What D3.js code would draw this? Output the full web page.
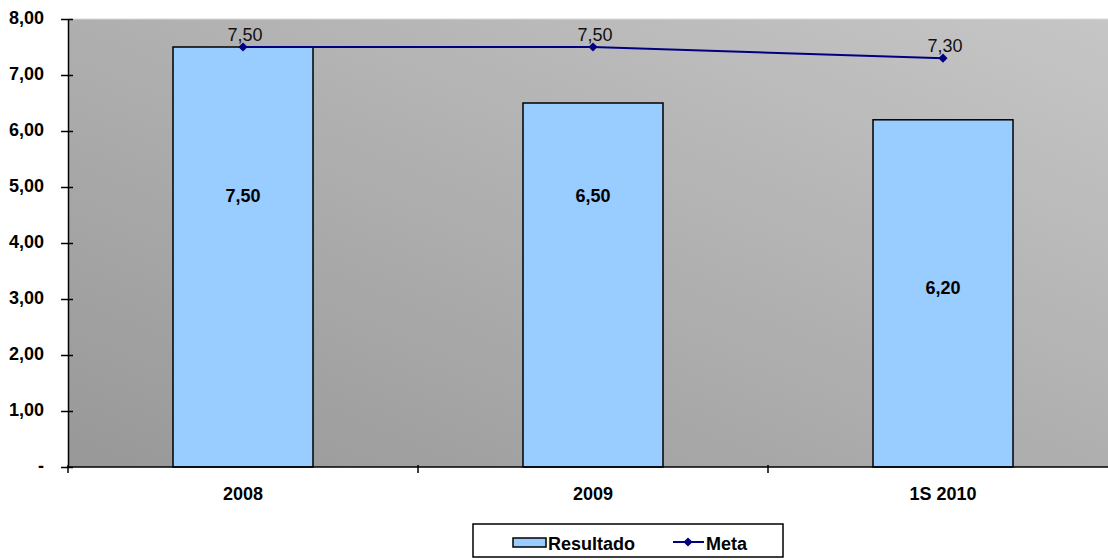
<!DOCTYPE html>
<html><head><meta charset="utf-8">
<script src="https://cdn.jsdelivr.net/npm/d3@7"></script>
<style>body{margin:0;background:#fff;}svg{display:block;font-family:Arial,"Liberation Sans",sans-serif;}</style>
</head><body><svg id="c" width="1108" height="560"></svg>
<script>
const categories = ["2008", "2009", "1S 2010"];
const resultado = [7.5, 6.5, 6.2];
const meta = [7.5, 7.5, 7.3];
const resultadoLabelAt = [4.85, 4.85, 3.21];
const yTicks = [0, 1, 2, 3, 4, 5, 6, 7, 8];
const yTickLabels = ["-", "1,00", "2,00", "3,00", "4,00", "5,00", "6,00", "7,00", "8,00"];
const fmt = v => v.toFixed(2).replace(".", ",");

const FONT = "Arial, 'Liberation Sans', sans-serif";
const svg = d3.select("#c");
const L = 68, R = 1118, T = 19, B = 467;
const x = d3.scaleBand().domain(categories).range([L, R]).paddingInner(0.6).paddingOuter(0.3);
const xc = d3.scalePoint().domain(categories).range([L, R]).padding(0.5);
const y = d3.scaleLinear().domain([0, 8]).range([B, T]);

const defs = svg.append("defs");
const g = defs.append("linearGradient").attr("id", "bg").attr("x1", "0").attr("y1", "1").attr("x2", "1").attr("y2", "0");
g.append("stop").attr("offset", "0").attr("stop-color", "#989898");
g.append("stop").attr("offset", "1").attr("stop-color", "#c6c6c6");

svg.append("rect").attr("x", L).attr("y", T).attr("width", R - L).attr("height", B - T).attr("fill", "url(#bg)");
svg.append("line").attr("x1", L).attr("x2", R).attr("y1", T).attr("y2", T).attr("stroke", "#d8d8d8").attr("stroke-width", 1);

// bars
svg.selectAll("rect.bar").data(resultado).join("rect").attr("class", "bar")
  .attr("x", (d, i) => x(categories[i])).attr("width", x.bandwidth())
  .attr("y", d => y(d)).attr("height", d => y(0) - y(d))
  .attr("fill", "#99ccff").attr("stroke", "#000").attr("stroke-width", 1.5);

svg.selectAll("text.bl").data(resultado).join("text").attr("class", "bl")
  .attr("x", (d, i) => xc(categories[i])).attr("y", (d, i) => y(resultadoLabelAt[i]) + 7)
  .attr("text-anchor", "middle").attr("font-size", 18).attr("font-weight", "bold").text(d => fmt(d));

// axes
const yAxis = d3.axisLeft(y).tickValues(yTicks).tickFormat((d, i) => yTickLabels[i]).tickSize(0).tickPadding(24);
const ya = svg.append("g").attr("transform", `translate(${L},0)`).call(yAxis);
ya.select(".domain").attr("stroke", "#000").attr("stroke-width", 1.5);
ya.selectAll(".tick text").attr("font-size", 18).attr("font-weight", "bold").attr("fill", "#000").attr("font-family", FONT).attr("dy", "0.25em");
ya.selectAll(".tick").append("line").attr("x1", -7).attr("x2", 5).attr("stroke", "#000").attr("stroke-width", 1.5);

svg.append("line").attr("x1", L).attr("x2", R).attr("y1", B).attr("y2", B).attr("stroke", "#000").attr("stroke-width", 1.5);
const bounds = categories.map(c => x(c) - x.step() * x.paddingInner() / 2);
bounds.push(R);
svg.selectAll("line.xt").data(bounds).join("line").attr("class", "xt")
  .attr("x1", d => d).attr("x2", d => d).attr("y1", B - 2).attr("y2", B + 6).attr("stroke", "#000").attr("stroke-width", 1.5);
svg.selectAll("text.xl").data(categories).join("text").attr("class", "xl")
  .attr("x", d => xc(d)).attr("y", 500).attr("text-anchor", "middle")
  .attr("font-size", 18).attr("font-weight", "bold").text(d => d);

// meta line
const line = d3.line().x((d, i) => xc(categories[i])).y(d => y(d));
svg.append("path").datum(meta).attr("d", line).attr("fill", "none").attr("stroke", "#000080").attr("stroke-width", 2);
const diamond = d3.symbol().type(d3.symbolSquare).size(42);
svg.selectAll("path.mk").data(meta).join("path").attr("class", "mk")
  .attr("transform", (d, i) => `translate(${xc(categories[i])},${y(d)}) rotate(45)`).attr("d", diamond).attr("fill", "#000080");
svg.selectAll("text.ml").data(meta).join("text").attr("class", "ml")
  .attr("x", (d, i) => xc(categories[i]) + 2).attr("y", d => y(d) - 6).attr("text-anchor", "middle")
  .attr("font-size", 18).attr("fill", "#111").text(d => fmt(d));

// legend
const lg = svg.append("g");
lg.append("rect").attr("x", 473).attr("y", 524).attr("width", 310).attr("height", 33).attr("fill", "#fff").attr("stroke", "#000").attr("stroke-width", 1.5);
lg.append("rect").attr("x", 513).attr("y", 538).attr("width", 33).attr("height", 9).attr("fill", "#99ccff").attr("stroke", "#000").attr("stroke-width", 1.5);
lg.append("text").attr("x", 548).attr("y", 550).attr("font-size", 18).attr("font-weight", "bold").text("Resultado");
lg.append("line").attr("x1", 673).attr("x2", 704).attr("y1", 542).attr("y2", 542).attr("stroke", "#000080").attr("stroke-width", 2);
lg.append("path").attr("transform", "translate(688,542) rotate(45)").attr("d", diamond).attr("fill", "#000080");
lg.append("text").attr("x", 706).attr("y", 550).attr("font-size", 18).attr("font-weight", "bold").text("Meta");
</script></body></html>
